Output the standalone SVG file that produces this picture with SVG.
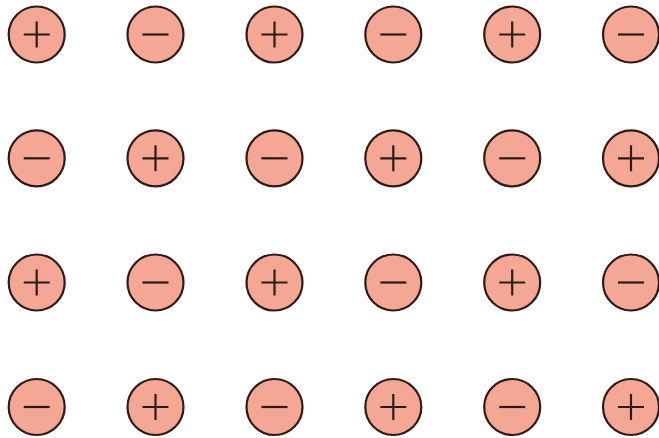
<svg xmlns="http://www.w3.org/2000/svg" width="659" height="438" viewBox="0 0 659 438">
<style>
.c{fill:#f5a796;stroke:#2e1b17;stroke-width:2.2}
.s{stroke:#2e1b17;stroke-width:2.2;fill:none}
</style>
<defs>
<g id="plus"><circle class="c" r="28"/><path class="s" d="M-13 0H13M0 -13V13"/></g>
<g id="minus"><circle class="c" r="28"/><path class="s" d="M-13 0H13"/></g>
</defs>
<rect width="659" height="438" fill="#fff"/>
<g id="r1">
<use id="n11" href="#plus" x="36.7" y="34.5"/>
<use id="n12" href="#minus" x="155.5" y="34.5"/>
<use id="n13" href="#plus" x="274.5" y="34.5"/>
<use id="n14" href="#minus" x="393.3" y="34.5"/>
<use id="n15" href="#plus" x="512.2" y="34.5"/>
<use id="n16" href="#minus" x="631" y="34.5"/>
</g>
<g id="r2">
<use id="n21" href="#minus" x="36.7" y="158.3"/>
<use id="n22" href="#plus" x="155.5" y="158.3"/>
<use id="n23" href="#minus" x="274.5" y="158.3"/>
<use id="n24" href="#plus" x="393.3" y="158.3"/>
<use id="n25" href="#minus" x="512.2" y="158.3"/>
<use id="n26" href="#plus" x="631" y="158.3"/>
</g>
<g id="r3">
<use id="n31" href="#plus" x="36.7" y="282.5"/>
<use id="n32" href="#minus" x="155.5" y="282.5"/>
<use id="n33" href="#plus" x="274.5" y="282.5"/>
<use id="n34" href="#minus" x="393.3" y="282.5"/>
<use id="n35" href="#plus" x="512.2" y="282.5"/>
<use id="n36" href="#minus" x="631" y="282.5"/>
</g>
<g id="r4">
<use id="n41" href="#minus" x="36.7" y="407"/>
<use id="n42" href="#plus" x="155.5" y="407"/>
<use id="n43" href="#minus" x="274.5" y="407"/>
<use id="n44" href="#plus" x="393.3" y="407"/>
<use id="n45" href="#minus" x="512.2" y="407"/>
<use id="n46" href="#plus" x="631" y="407"/>
</g>
<g id="connectors"/>
</svg>
